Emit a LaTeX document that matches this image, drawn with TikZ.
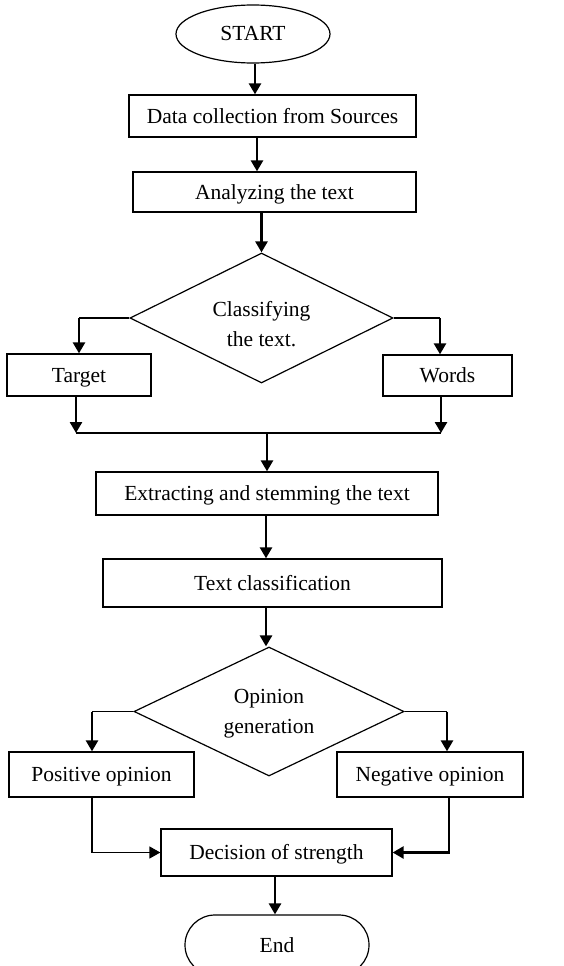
\documentclass[tikz,border=0pt]{standalone}
\usepackage{fontspec}
\setmainfont{Liberation Serif}
\usetikzlibrary{shapes.geometric,shapes.misc,arrows.meta}
\begin{document}
\begin{tikzpicture}[x=1pt,y=-1pt,
  every node/.style={font=\fontsize{21.5}{29}\selectfont},
  box/.style={draw,line width=1.3pt,rectangle,inner sep=0pt,text height=17pt,text depth=3pt},
  dia/.style={draw,line width=1.2pt,diamond,inner sep=0pt},
  dtext/.style={align=center,inner sep=0pt},
  arr/.style={line width=2.6pt,-{Triangle[length=11pt,width=12pt]}},
  thinarr/.style={line width=1.5pt,-{Triangle[length=11pt,width=12pt]}},
  ln/.style={line width=1.5pt}]
\useasboundingbox (0,0) rectangle (563,966);
\node[draw,line width=1.2pt,ellipse,minimum width=154pt,minimum height=58pt,inner sep=0pt,text height=16pt,text depth=2pt] (start) at (253,34) {START};
\node[box,minimum width=287pt,minimum height=42pt] (dc) at (272.5,116) {Data collection from Sources};
\node[box,minimum width=283pt,minimum height=40pt] (an) at (274.5,192) {Analyzing the text};
\node[dia,minimum width=263pt,minimum height=130pt] (d1) at (261.5,318) {};
\node[dtext] (d1t) at (261.5,324) {Classifying\\[1pt]the text.};
\node[box,minimum width=144pt,minimum height=42pt] (tg) at (79,375) {Target};
\node[box,minimum width=129pt,minimum height=41pt] (wd) at (447.5,375.5) {Words};
\node[box,minimum width=342pt,minimum height=43pt] (ex) at (267,493.5) {Extracting and stemming the text};
\node[box,minimum width=339pt,minimum height=48pt] (tc) at (272.5,583) {Text classification};
\node[dia,minimum width=270pt,minimum height=129pt] (d2) at (269,711.5) {};
\node[dtext] (d2t) at (269,714) {Opinion\\[1pt]generation};
\node[box,minimum width=185pt,minimum height=45pt] (po) at (101.5,774.5) {Positive opinion};
\node[box,minimum width=186pt,minimum height=45pt] (ng) at (430,774.5) {Negative opinion};
\node[box,minimum width=231pt,minimum height=47pt] (ds) at (276.5,852.5) {Decision of strength};
\node[draw,line width=1.2pt,rounded rectangle,minimum width=184pt,minimum height=60pt,inner sep=0pt,text height=16pt,text depth=2pt] (en) at (277,945) {End};
\coordinate (jl) at (76,433);
\coordinate (jr) at (441,433);
\coordinate (jm) at (267,433);
\coordinate (wl) at (440,318);
\coordinate (pl) at (92,711.5);
\coordinate (nl) at (447,711.5);
\draw[arr] (start.south -| 255,0) -- (dc.north -| 255,0);
\draw[arr] (dc.south -| 257,0) -- (an.north -| 257,0);
\draw[arr] (an.south -| d1.north) -- (d1.north);
\draw[ln] (d1.west) -- (tg.north |- d1.west);
\draw[arr] (tg.north |- d1.west) -- (tg.north);
\draw[ln] (d1.east) -- (wl);
\draw[arr] (wl) -- (wl |- wd.north);
\draw[arr] (tg.south -| jl) -- (jl);
\draw[arr] (wd.south -| jr) -- (jr);
\draw[ln] (jl) -- (jr);
\draw[arr] (jm) -- (ex.north -| jm);
\draw[arr] (ex.south -| 266,0) -- (tc.north -| 266,0);
\draw[arr] (tc.south -| 266,0) -- (d2.north -| 266,0);
\draw[ln] (d2.west) -- (pl);
\draw[arr] (pl) -- (pl |- po.north);
\draw[ln] (d2.east) -- (nl);
\draw[arr] (nl) -- (nl |- ng.north);
\draw[thinarr] (po.south -| pl) |- (ds.west);
\draw[arr] (ng.south -| 449,0) |- (ds.east);
\draw[arr] (ds.south -| 275,0) -- (en.north -| 275,0);
\end{tikzpicture}
\end{document}
